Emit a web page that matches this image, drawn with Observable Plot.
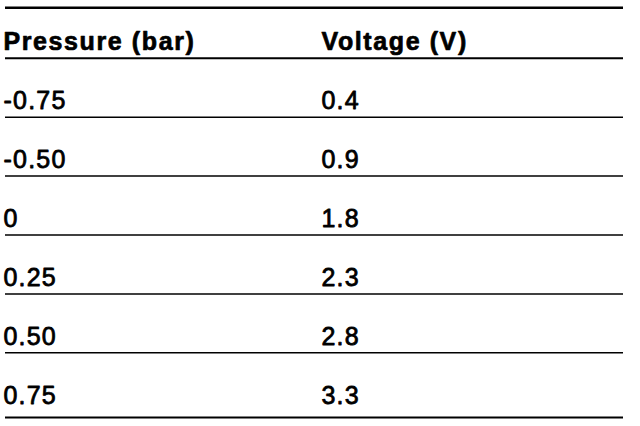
<!DOCTYPE html>
<html>
<head>
<meta charset="utf-8">
<script src="https://cdn.jsdelivr.net/npm/d3@7"></script>
<script src="https://cdn.jsdelivr.net/npm/@observablehq/plot@0.6"></script>
<style>
  html, body { margin: 0; padding: 0; background: #fff; }
  #chart svg text { letter-spacing: 1.2px; }
  #chart svg g[font-weight="bold"] text { letter-spacing: 1.6px; }
</style>
</head>
<body>
<div id="chart"></div>
<script>
const headers = ["Pressure (bar)", "Voltage (V)"];
const pressure = ["-0.75", "-0.50", "0", "0.25", "0.50", "0.75"];
const voltage = [0.4, 0.9, 1.8, 2.3, 2.8, 3.3];

const headerRows = headers.map((h, c) => ({col: c, row: 0, label: h}));
const bodyRows = [];
pressure.forEach((p, i) => {
  bodyRows.push({col: 0, row: i + 1, label: p});
  bodyRows.push({col: 1, row: i + 1, label: voltage[i].toFixed(1)});
});

const nRows = pressure.length;
const separators = d3.range(0, nRows).map(i => i + 0.27);
const topBorder = [-0.59];
const bottomBorder = [nRows + 0.37];

const chart = Plot.plot({
  width: 640,
  height: 426,
  marginTop: 0,
  marginBottom: 0,
  marginLeft: 5,
  marginRight: 17,
  x: {type: "linear", domain: [0, 1], range: [3, 321], axis: null},
  y: {type: "linear", domain: [0, nRows], range: [41.9, 395.3], axis: null},
  marks: [
    Plot.ruleY(topBorder, {stroke: "#000", strokeWidth: 2.5}),
    Plot.ruleY([separators[0]], {stroke: "#000", strokeWidth: 2}),
    Plot.ruleY(separators.slice(1), {stroke: "#000", strokeWidth: 1.5}),
    Plot.ruleY(bottomBorder, {stroke: "#000", strokeWidth: 2}),
    Plot.text(headerRows, {
      x: "col", y: "row", text: "label",
      textAnchor: "start", lineAnchor: "middle",
      fontSize: 25, fontWeight: "bold",
      fontFamily: "Liberation Sans, Arial, sans-serif",
      fill: "#000", stroke: "#000", strokeWidth: 0.7
    }),
    Plot.text(bodyRows, {
      x: "col", y: "row", text: "label",
      textAnchor: "start", lineAnchor: "middle",
      fontSize: 25, fontWeight: "normal",
      fontFamily: "Liberation Sans, Arial, sans-serif",
      fill: "#000", stroke: "#000", strokeWidth: 0.8
    })
  ]
});
document.getElementById("chart").appendChild(chart);
</script>
</body>
</html>
